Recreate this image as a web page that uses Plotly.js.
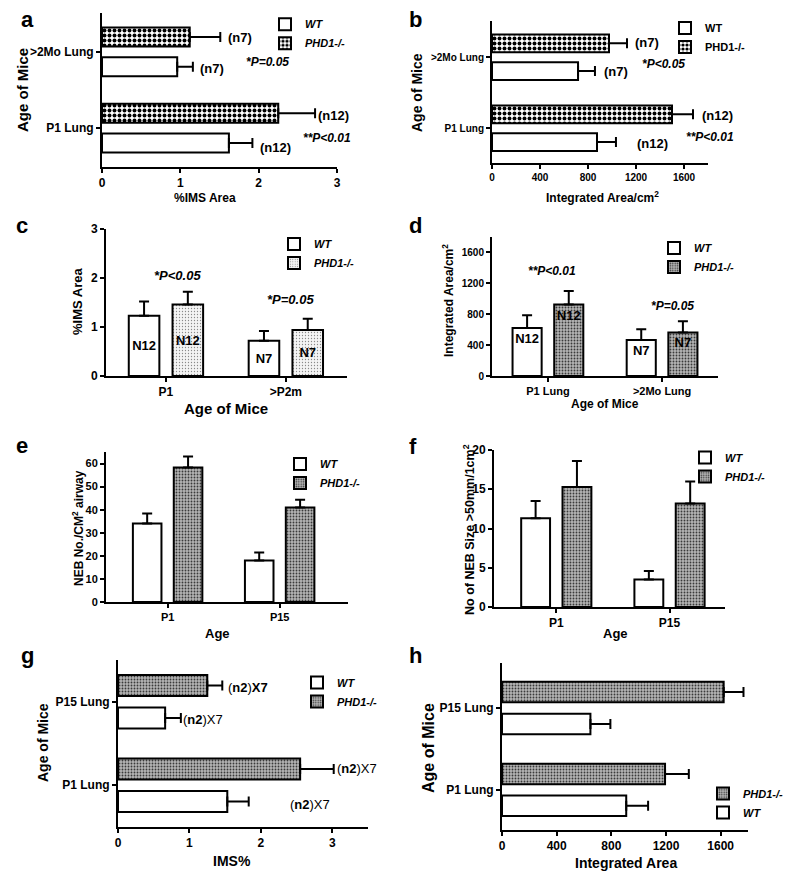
<!DOCTYPE html>
<html><head><meta charset="utf-8">
<script src="https://cdn.plot.ly/plotly-3.0.1.min.js"></script>
<style>html,body{margin:0;padding:0;background:#fff;} #chart{width:800px;height:877px;}</style>
</head><body><div id="chart"></div>
<script>
// ---------------- data ----------------
const groupNames = ["WT", "PHD1-/-"];

const aCats = ["P1 Lung", ">2Mo Lung"];
const aWT = [1.62, 0.96];
const aWTerr = [0.30, 0.20];
const aKO = [2.25, 1.12];
const aKOerr = [0.47, 0.39];

const bCats = ["P1 Lung", ">2Mo Lung"];
const bWT = [875, 717];
const bWTerr = [158, 141];
const bKO = [1500, 975];
const bKOerr = [175, 150];

const cCats = ["P1", ">P2m"];
const cWT = [1.23, 0.72];
const cWTerr = [0.29, 0.20];
const cKO = [1.46, 0.94];
const cKOerr = [0.26, 0.23];
const cN = ["N12", "N7"];

const dCats = ["P1 Lung", ">2Mo Lung"];
const dWT = [623, 465];
const dWTerr = [164, 141];
const dKO = [925, 564];
const dKOerr = [175, 146];
const dN = ["N12", "N7"];

const eCats = ["P1", "P15"];
const eWT = [34, 18];
const eWTerr = [4.3, 3.5];
const eKO = [58.3, 41];
const eKOerr = [4.7, 3.3];

const fCats = ["P1", "P15"];
const fWT = [11.3, 3.5];
const fWTerr = [2.2, 1.1];
const fKO = [15.3, 13.2];
const fKOerr = [3.3, 2.8];

const gCats = ["P1 Lung", "P15 Lung"];
const gWT = [1.53, 0.66];
const gWTerr = [0.30, 0.22];
const gKO = [2.55, 1.25];
const gKOerr = [0.47, 0.21];

const hCats = ["P1 Lung", "P15 Lung"];
const hWT = [909, 647];
const hWTerr = [160, 146];
const hKO = [1193, 1622];
const hKOerr = [174, 145];

// ---------------- helpers ----------------
const W = 800, H = 877;
const px = x => x / W;
const py = y => 1 - y / H;
const FONT = "Liberation Sans, Arial, Helvetica, sans-serif";
const zeros = n => new Array(n).fill(0);

const PAT_CHECK = {shape: '.', fgcolor: '#000', bgcolor: '#fff', size: 5, solidity: 0.5, fillmode: 'replace'};
const PAT_LIGHT = {shape: '.', fgcolor: '#8a8a8a', bgcolor: '#f4f4f4', size: 3, solidity: 0.15, fillmode: 'replace'};
const PAT_DARK  = {shape: '.', fgcolor: '#3a3a3a', bgcolor: '#b4b4b4', size: 3, solidity: 0.3, fillmode: 'replace'};

function bar(n, horiz, cats, vals, errs, name, pat, offset, width, text, anchor) {
  const sfx = n === 1 ? '' : String(n);
  const t = {
    type: 'bar', name: name, orientation: horiz ? 'h' : 'v',
    xaxis: 'x' + sfx, yaxis: 'y' + sfx,
    offset: offset, width: width,
    marker: {color: '#fff', line: {color: '#000', width: 2}},
    legend: 'legend' + sfx, showlegend: true, hoverinfo: 'skip'
  };
  if (pat) t.marker.pattern = pat;
  const eb = {type: 'data', array: errs, arrayminus: zeros(errs.length), symmetric: false,
              visible: true, color: '#000', thickness: 2, width: 5};
  if (horiz) { t.x = vals; t.y = cats; t.error_x = eb; }
  else { t.x = cats; t.y = vals; t.error_y = eb; }
  if (text) {
    t.text = text; t.textposition = 'inside'; t.insidetextanchor = anchor;
    t.textangle = 0; t.constraintext = 'none';
    t.textfont = {family: FONT, size: 13, weight: 'bold', color: '#000'};
  }
  return t;
}

const HW = {wt: -0.32, ko: 0.07, w: 0.25};   // horizontal panels
const VW = {wt: -0.31, ko: 0.055, w: 0.255}; // vertical panels

const data = [
  bar(1, true, aCats, aWT, aWTerr, groupNames[0], null, HW.wt, HW.w),
  bar(1, true, aCats, aKO, aKOerr, groupNames[1], PAT_CHECK, HW.ko, HW.w),
  bar(2, true, bCats, bWT, bWTerr, groupNames[0], null, HW.wt, HW.w),
  bar(2, true, bCats, bKO, bKOerr, groupNames[1], PAT_CHECK, HW.ko, HW.w),
  bar(3, false, cCats, cWT, cWTerr, groupNames[0], null, VW.wt, VW.w, cN, 'middle'),
  bar(3, false, cCats, cKO, cKOerr, groupNames[1], PAT_LIGHT, VW.ko, VW.w, cN, 'middle'),
  bar(4, false, dCats, dWT, dWTerr, groupNames[0], null, VW.wt, VW.w, dN, 'end'),
  bar(4, false, dCats, dKO, dKOerr, groupNames[1], PAT_DARK, VW.ko, VW.w, dN, 'end'),
  bar(5, false, eCats, eWT, eWTerr, groupNames[0], null, VW.wt, VW.w),
  bar(5, false, eCats, eKO, eKOerr, groupNames[1], PAT_DARK, VW.ko, VW.w),
  bar(6, false, fCats, fWT, fWTerr, groupNames[0], null, VW.wt, VW.w),
  bar(6, false, fCats, fKO, fKOerr, groupNames[1], PAT_DARK, VW.ko, VW.w),
  bar(7, true, gCats, gWT, gWTerr, groupNames[0], null, HW.wt, HW.w),
  bar(7, true, gCats, gKO, gKOerr, groupNames[1], PAT_DARK, HW.ko, HW.w),
  bar(8, true, hCats, hWT, hWTerr, groupNames[0], null, HW.wt, HW.w),
  bar(8, true, hCats, hKO, hKOerr, groupNames[1], PAT_DARK, HW.ko, HW.w)
];

function ax(n, letter, dom, opts, fs) {
  const sfx = n === 1 ? '' : String(n);
  const other = letter === 'x' ? 'y' : 'x';
  return Object.assign({
    domain: dom, anchor: other + sfx,
    showline: true, linewidth: 2, linecolor: '#000', mirror: false,
    ticks: 'outside', ticklen: 4, tickwidth: 2, tickcolor: '#000',
    showgrid: false, zeroline: false, fixedrange: true, automargin: false,
    tickfont: {family: FONT, size: fs, weight: 'bold', color: '#000'}
  }, opts);
}
// panel boxes in pixels: [left, right, top, bottom]
const box = {
  1: [102, 337, 13, 167], 2: [492, 708, 21, 163],
  3: [106, 347, 229, 376], 4: [492, 718, 237, 376],
  5: [106, 348, 452, 602], 6: [494, 725, 450, 607],
  7: [118, 368, 660, 827], 8: [502, 748, 663, 830]
};
const xd = n => [px(box[n][0]), px(box[n][1])];
const yd = n => [py(box[n][3]), py(box[n][2])];

function legendCfg(x, y, italic, reversed) {
  return {x: px(x), y: py(y), xanchor: 'left', yanchor: 'top', bgcolor: 'rgba(0,0,0,0)', borderwidth: 0,
    font: {family: FONT, size: 11, weight: 'bold', style: italic ? 'italic' : 'normal', color: '#000'},
    traceorder: reversed ? 'reversed' : 'normal', itemclick: false, itemdoubleclick: false};
}

const anns = [];
function A(text, x, y, size, o) {
  o = o || {};
  anns.push({text: text, xref: 'paper', yref: 'paper', x: px(x), y: py(y), showarrow: false,
    xanchor: 'center', yanchor: 'middle', textangle: o.rot || 0,
    font: {family: FONT, size: size, weight: o.normal ? 'normal' : 'bold', style: o.italic ? 'italic' : 'normal', color: '#000'}});
}
// panel letters
A('a', 27, 20, 22); A('b', 415, 20, 22); A('c', 22, 225, 22); A('d', 415, 225, 22);
A('e', 22, 445, 22); A('f', 413, 447, 22); A('g', 27, 655, 22); A('h', 415, 655, 22);
// axis titles
A('Age of Mice', 23, 90, 15, {rot: -90});  A('%IMS Area', 205, 198, 12);
A('Age of Mice', 417, 93, 14, {rot: -90}); A('Integrated Area/cm<sup>2</sup>', 602, 197, 12);
A('%IMS Area', 78, 302, 13, {rot: -90});   A('Age of Mice', 226, 408, 15);
A('Integrated Area/cm<sup>2</sup>', 448, 301, 12, {rot: -90}); A('Age of Mice', 605, 404, 12);
A('NEB No./CM<sup>2</sup> airway', 78, 528, 12, {rot: -90}); A('Age', 217, 633, 13);
A('No of NEB Size &gt;50mm/1cm<sup>2</sup>', 469, 530, 12.5, {rot: -90}); A('Age', 615, 633, 13);
A('Age of Mice', 43, 743, 14, {rot: -90}); A('IMS%', 232, 861, 14);
A('Age of Mice', 428, 748, 16, {rot: -90}); A('Integrated Area', 626, 863, 14);
// statistics / n labels
A('(n7)', 240, 37, 13); A('(n7)', 212, 68, 13); A('*P=0.05', 267, 62, 12, {italic: true});
A('(n12)', 333, 116, 13); A('**P&lt;0.01', 327, 138, 12, {italic: true}); A('(n12)', 275, 147, 13);
A('(n7)', 647, 43, 13); A('(n7)', 616, 71, 13); A('*P&lt;0.05', 663, 64, 12, {italic: true});
A('(n12)', 717, 116, 13); A('**P&lt;0.01', 710, 137, 12, {italic: true}); A('(n12)', 652, 144, 13);
A('*P&lt;0.05', 177, 275, 13, {italic: true}); A('*P=0.05', 290, 299, 13, {italic: true});
A('**P&lt;0.01', 552, 271, 12, {italic: true}); A('*P=0.05', 672, 306, 12, {italic: true});
A('(<b>n2</b>)<b>X7</b>', 248, 687, 13, {normal: true}); A('(<b>n2</b>)X7', 203, 719, 13, {normal: true});
A('(<b>n2</b>)X7', 357, 768, 13, {normal: true}); A('(<b>n2</b>)X7', 310, 804, 13, {normal: true});

const layout = {
  width: W, height: H, margin: {l: 0, r: 0, t: 0, b: 0},
  paper_bgcolor: '#fff', plot_bgcolor: 'rgba(0,0,0,0)',
  barmode: 'overlay', hovermode: false, showlegend: true,
  font: {family: FONT, color: '#000'},
  // a
  xaxis:  ax(1, 'x', xd(1), {range: [0, 3], dtick: 1, tick0: 0}, 12),
  yaxis:  ax(1, 'y', yd(1), {type: 'category', range: [-0.51, 1.51]}, 12),
  // b
  xaxis2: ax(2, 'x', xd(2), {range: [0, 1800], dtick: 400, tick0: 0}, 10),
  yaxis2: ax(2, 'y', yd(2), {type: 'category', range: [-0.49, 1.51]}, 10),
  // c
  xaxis3: ax(3, 'x', xd(3), {type: 'category', range: [-0.5, 1.51]}, 12),
  yaxis3: ax(3, 'y', yd(3), {range: [0, 3], dtick: 1, tick0: 0}, 12),
  // d
  xaxis4: ax(4, 'x', xd(4), {type: 'category', range: [-0.49, 1.49]}, 11),
  yaxis4: ax(4, 'y', yd(4), {range: [0, 1800], dtick: 400, tick0: 0}, 10),
  // e
  xaxis5: ax(5, 'x', xd(5), {type: 'category', range: [-0.55, 1.61]}, 11),
  yaxis5: ax(5, 'y', yd(5), {range: [0, 65], dtick: 10, tick0: 0}, 11),
  // f
  xaxis6: ax(6, 'x', xd(6), {type: 'category', range: [-0.55, 1.49]}, 12),
  yaxis6: ax(6, 'y', yd(6), {range: [0, 20], dtick: 5, tick0: 0}, 12),
  // g
  xaxis7: ax(7, 'x', xd(7), {range: [0, 3.5], dtick: 1, tick0: 0}, 12),
  yaxis7: ax(7, 'y', yd(7), {type: 'category', range: [-0.5, 1.5]}, 12),
  // h
  xaxis8: ax(8, 'x', xd(8), {range: [0, 1800], dtick: 400, tick0: 0}, 12),
  yaxis8: ax(8, 'y', yd(8), {type: 'category', range: [-0.49, 1.55]}, 12),
  legend:  legendCfg(265, 9.7, true, false),
  legend2: legendCfg(665, 13.5, false, false),
  legend3: legendCfg(274, 229.5, true, false),
  legend4: legendCfg(654, 233.5, true, false),
  legend5: legendCfg(280, 449.5, true, false),
  legend6: legendCfg(685, 443, true, false),
  legend7: legendCfg(297, 668, true, false),
  legend8: legendCfg(703, 779, true, true),
  annotations: anns
};

Plotly.newPlot('chart', data, layout, {staticPlot: true, displayModeBar: false});
</script>
</body></html>
